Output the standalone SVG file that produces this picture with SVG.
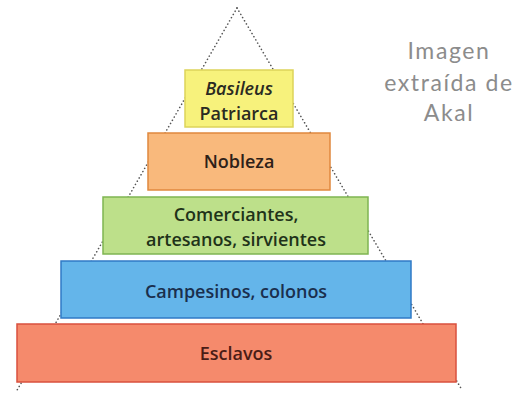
<svg xmlns="http://www.w3.org/2000/svg" width="529" height="397" viewBox="0 0 529 397">
<style>
.lbl{font-family:"Open Sans","Liberation Sans",sans-serif;font-weight:600;font-size:18px;text-anchor:middle}
.note{font-family:"Lato","Open Sans",sans-serif;font-size:23px;letter-spacing:1.6px;fill:#8c8c8c;text-anchor:middle}
.dots{fill:none;stroke:#555;stroke-width:1.6;stroke-dasharray:0.1 3.6;stroke-linecap:round}
</style>
<rect width="529" height="397" fill="#fff"/>
<g id="connectors">
<path class="dots" d="M237,8 L16,392"/>
<path class="dots" d="M237,8 L462,390"/>
</g>
<g id="esclavos">
<rect x="17" y="324" width="439" height="58" fill="#f58a6c" stroke="#d9503e" stroke-width="1.5"/>
<text class="lbl" x="236" y="360" fill="#4a1c16">Esclavos</text>
</g>
<g id="campesinos">
<rect x="61" y="261" width="350" height="57" fill="#64b5ea" stroke="#2f7ac6" stroke-width="1.5"/>
<text class="lbl" x="236" y="298" fill="#1a2f4e">Campesinos, colonos</text>
</g>
<g id="comerciantes">
<rect x="103" y="197" width="265" height="57" fill="#bde08a" stroke="#7fb552" stroke-width="1.5"/>
<text class="lbl" x="236" y="221" fill="#1f3319">Comerciantes,</text>
<text class="lbl" x="236" y="246" fill="#1f3319">artesanos, sirvientes</text>
</g>
<g id="nobleza">
<rect x="148" y="133" width="182" height="57" fill="#f9b97c" stroke="#e0883e" stroke-width="1.5"/>
<text class="lbl" x="239" y="168" fill="#2e2118">Nobleza</text>
</g>
<g id="basileus">
<rect x="185" y="70" width="108" height="57" fill="#f7f27c" stroke="#ddd35a" stroke-width="1.5"/>
<text class="lbl" x="239" y="95" fill="#2a2a22" font-style="italic">Basileus</text>
<text class="lbl" x="239" y="120" fill="#2a2a22">Patriarca</text>
</g>
<g id="note">
<text class="note" x="449" y="59">Imagen</text>
<text class="note" x="449" y="91">extraída de</text>
<text class="note" x="449" y="121">Akal</text>
</g>
</svg>
